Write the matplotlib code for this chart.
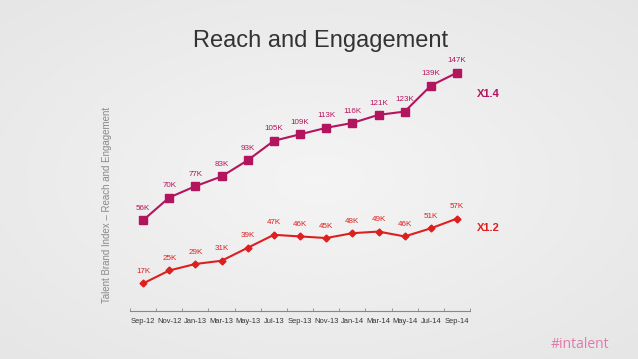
import numpy as np
import matplotlib
matplotlib.use("Agg")
import matplotlib.pyplot as plt

# データ
months = ["Sep-12", "Nov-12", "Jan-13", "Mar-13", "May-13", "Jul-13", "Sep-13",
          "Nov-13", "Jan-14", "Mar-14", "May-14", "Jul-14", "Sep-14"]
reach = [56, 70, 77, 83, 93, 105, 109, 113, 116, 121, 123, 139, 147]
engagement = [17, 25, 29, 31, 39, 47, 46, 45, 48, 49, 46, 51, 57]

magenta = "#b3145e"
red = "#dd1f1f"

plt.rcParams['font.family'] = ['Liberation Sans', 'DejaVu Sans']

fig = plt.figure(figsize=(6.38, 3.59), dpi=100)

# 背景のグラデーション
bg = fig.add_axes([0, 0, 1, 1])
yy, xx = np.mgrid[-1:1:200j, -1:1:360j]
r = np.sqrt(xx**2 + yy**2)
bg.imshow(0.955 - 0.04 * r, cmap="gray", vmin=0, vmax=1, aspect="auto",
          extent=[0, 1, 0, 1])
bg.axis("off")

ax = fig.add_axes([0.2038, 0.1337, 0.533, 0.7225])
ax.patch.set_alpha(0)
x = np.arange(len(months))

ax.plot(x, reach, color=magenta, lw=1.5, marker="s", ms=5.5)
ax.plot(x, engagement, color=red, lw=1.5, marker="D", ms=3.5)

for i in x:
    ax.annotate(f"{reach[i]}K", (i, reach[i]), xytext=(0, 6), textcoords="offset points",
                ha="center", va="bottom", fontsize=5.8, color=magenta)
    ax.annotate(f"{engagement[i]}K", (i, engagement[i]), xytext=(0, 6), textcoords="offset points",
                ha="center", va="bottom", fontsize=5.8, color=red)

ax.set_xlim(-0.5, len(months) - 0.5)
ax.set_ylim(0, 160)
ax.set_xticks(x)
ax.set_xticklabels(months, fontsize=5.4, color="#333333")
ax.set_xticks(np.arange(-0.5, len(months)), minor=True)
ax.tick_params(axis="x", which="major", length=0, pad=5)
ax.tick_params(axis="x", which="minor", length=2.5, direction="in", color="#888888")
ax.set_yticks([])
for s in ["top", "right", "left"]:
    ax.spines[s].set_visible(False)
ax.spines["bottom"].set_color("#888888")
ax.spines["bottom"].set_linewidth(0.8)

ax.set_ylabel("Talent Brand Index \u2013 Reach and Engagement", fontsize=7,
              color="#8a8a8a")
ax.yaxis.set_label_coords(-0.052, 0.41)

fig.text(0.502, 0.885, "Reach and Engagement", ha="center", va="center",
         fontsize=17, color="#333333")
fig.text(0.748, 0.738, "X1.4", ha="left", va="center", fontsize=8,
         fontweight="bold", color=magenta)
fig.text(0.748, 0.365, "X1.2", ha="left", va="center", fontsize=8,
         fontweight="bold", color=red)
fig.text(0.955, 0.04, "#intalent", ha="right", va="center", fontsize=10,
         color="#e07aa8", family=["Open Sans", "DejaVu Sans"])

fig.savefig("out.png", dpi=100)
